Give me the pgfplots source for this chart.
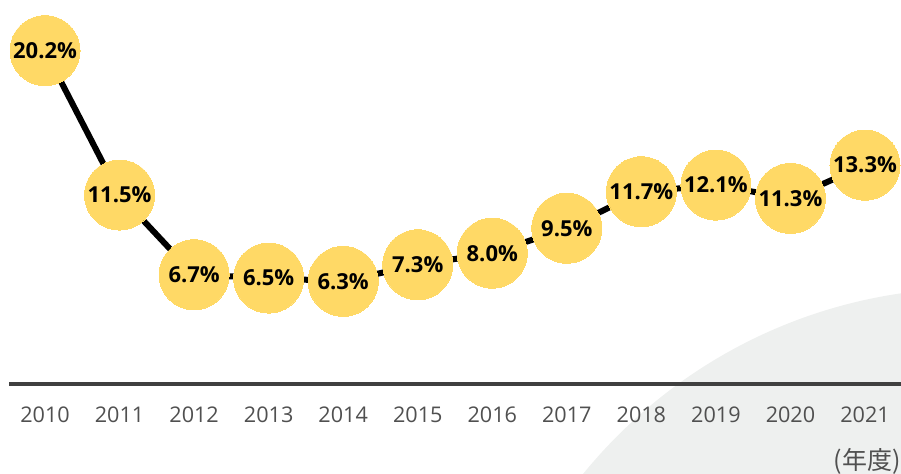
\documentclass[border=0pt]{standalone}
\usepackage{fontspec}
\setmainfont{Open Sans}
\newfontfamily\cjk{Noto Sans CJK JP}
\usepackage{pgfplots}
\pgfplotsset{compat=1.18}
\definecolor{circ}{HTML}{FFD966}
\definecolor{bgc}{HTML}{EEF0EF}
\definecolor{axc}{HTML}{404040}
\definecolor{tickc}{HTML}{505050}
\begin{document}
\begin{tikzpicture}
\begin{axis}[
  set layers=standard,
  scale only axis, width=450.5pt, height=237pt,
  xmin=2009.396, xmax=2021.483, ymin=-5.30, ymax=23.25,
  axis line style={draw=none}, tick style={draw=none},
  ytick=\empty, xtick={2010,2011,2012,2013,2014,2015,2016,2017,2018,2019,2020,2021},
  xticklabels={2010,2011,2012,2013,2014,2015,2016,2017,2018,2019,2020,2021},
  xticklabel style={anchor=center, yshift=29.5pt, font=\fontsize{10.8}{12}\selectfont, text=tickc},
  clip=true,
]
\coordinate (bl) at (rel axis cs:0,0);
\coordinate (tr) at (rel axis cs:1,1);
\pgfonlayer{axis background}
\fill[bgc] (axis cs:2022.462,-24.46) circle[radius=252pt];
\endpgfonlayer
\draw[axc, line width=2pt] (axis cs:2009.517,0.12) -- (axis cs:2021.483,0.12);
\addplot[line width=3pt, black, mark=*, mark size=17.5pt,
  mark options={fill=circ, draw=circ, line width=0pt},
  point meta=explicit symbolic, nodes near coords,
  nodes near coords style={anchor=center, font=\bfseries\fontsize{11}{12}\selectfont, text=black}]
  coordinates {
  (2010,20.2) [20.2\%]
  (2011,11.5) [11.5\%]
  (2012,6.7) [6.7\%]
  (2013,6.5) [6.5\%]
  (2014,6.3) [6.3\%]
  (2015,7.3) [7.3\%]
  (2016,8.0) [8.0\%]
  (2017,9.5) [9.5\%]
  (2018,11.7) [11.7\%]
  (2019,12.1) [12.1\%]
  (2020,11.3) [11.3\%]
  (2021,13.3) [13.3\%]
  };
\node[anchor=east, text=tickc, font=\fontsize{12.5}{14}\selectfont\cjk, inner sep=0pt] at (rel axis cs:1,0.027) {(年度)};
\end{axis}
\pgfresetboundingbox
\useasboundingbox (bl) rectangle (tr);
\end{tikzpicture}
\end{document}
